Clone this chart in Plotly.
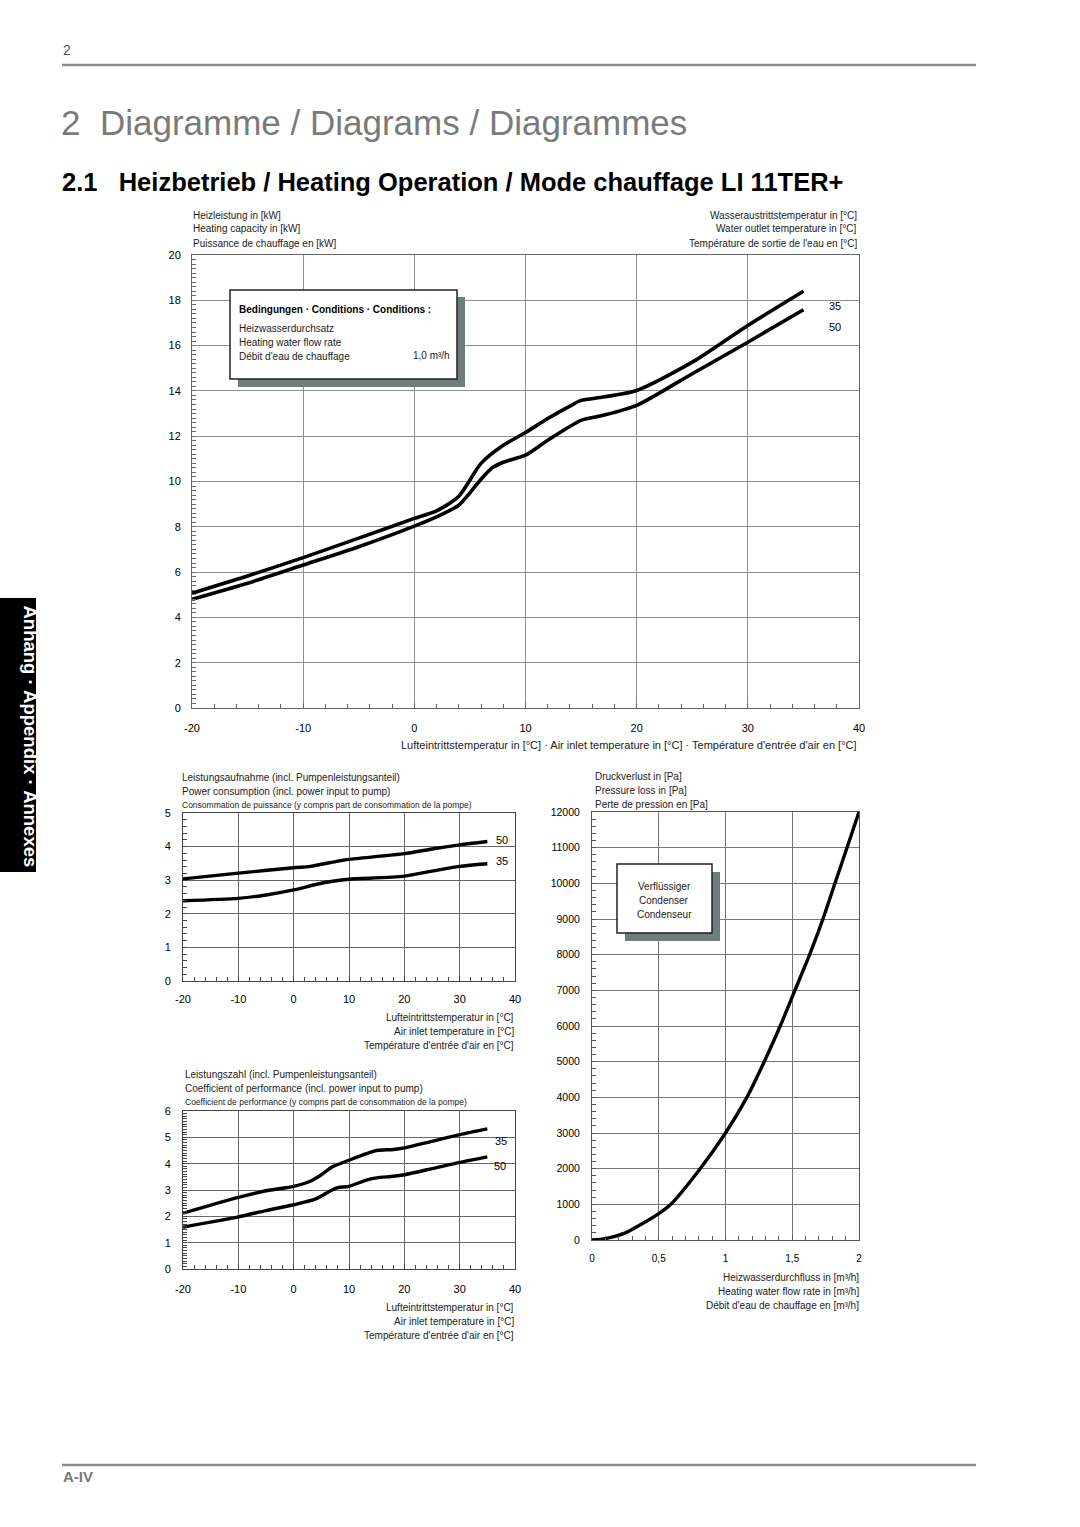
import plotly.graph_objects as go

# ---------------- data ----------------
# Main chart: heating capacity [kW] vs air inlet temperature [°C]
cap_temp_35 = [-20, -15, -10, -5, 0, 2, 4, 6, 8, 10, 12, 14, 15, 17, 20, 25, 30, 35]
cap_35 = [5.07, 5.83, 6.64, 7.5, 8.37, 8.7, 9.35, 10.8, 11.6, 12.16, 12.78, 13.33, 13.58, 13.73, 14.02, 15.27, 16.89, 18.4]
cap_temp_50 = [-20, -15, -10, -5, 0, 2, 4, 5, 6, 7, 8, 10, 12, 15, 17, 20, 25, 30, 35]
cap_50 = [4.80, 5.51, 6.31, 7.12, 8.03, 8.44, 8.95, 9.5, 10.1, 10.6, 10.85, 11.16, 11.82, 12.7, 12.92, 13.36, 14.76, 16.15, 17.58]

# Power consumption [kW]
pw_temp_50 = [-20, -10, 0, 3, 8, 10, 20, 25, 30, 35]
pw_50 = [3.04, 3.21, 3.37, 3.41, 3.57, 3.62, 3.79, 3.93, 4.05, 4.15]
pw_temp_35 = [-20, -10, -5, 0, 5, 8, 10, 20, 25, 30, 35]
pw_35 = [2.39, 2.46, 2.56, 2.71, 2.91, 2.99, 3.03, 3.12, 3.27, 3.41, 3.49]

# Coefficient of performance
cop_temp_35 = [-20, -10, -5, 0, 3, 5, 7, 10, 13, 15, 18, 20, 25, 30, 35]
cop_35 = [2.12, 2.72, 2.97, 3.14, 3.33, 3.58, 3.88, 4.13, 4.37, 4.50, 4.54, 4.60, 4.85, 5.10, 5.32]
cop_temp_50 = [-20, -10, -5, 0, 4, 7, 8, 10, 13, 15, 18, 20, 25, 30, 35]
cop_50 = [1.59, 1.98, 2.22, 2.44, 2.66, 3.01, 3.09, 3.14, 3.37, 3.46, 3.52, 3.58, 3.81, 4.05, 4.26]

# Pressure loss [Pa] vs heating water flow [m³/h]
flow = [0, 0.1, 0.25, 0.5, 0.59, 0.81, 1.0, 1.16, 1.29, 1.41, 1.52, 1.63, 1.73, 1.82, 1.91, 2.0]
ploss = [0, 40, 200, 740, 1000, 2000, 3000, 4000, 5000, 6000, 7000, 8000, 9000, 10000, 11000, 12000]

temp_ticks = [-20, -10, 0, 10, 20, 30, 40]
temp_ticktext = ["-20", "-10", "0", "10", "20", "30", "40"]
cap_ticks = [0, 2, 4, 6, 8, 10, 12, 14, 16, 18, 20]
pw_ticks = [0, 1, 2, 3, 4, 5]
cop_ticks = [0, 1, 2, 3, 4, 5, 6]
p_ticks = list(range(0, 12001, 1000))
flow_ticks = [0, 0.5, 1, 1.5, 2]
flow_ticktext = ["0", "0,5", "1", "1,5", "2"]

# gridlines drawn in a different tone in the original
cap_dark_grid = [4, 10, 14]
pw_teal_grid = [-10]
pw_light_grid = [10]
cop_light_grid = [1]
p_teal_grid = [2000]

# ---------------- helpers ----------------
W, H = 1080, 1527
def px(x):
    return x / W
def py(y):
    return 1 - y / H

FONT = "Liberation Sans"

fig = go.Figure()

def curve(x, y, xa, ya, w=3.6):
    fig.add_trace(go.Scatter(x=x, y=y, mode="lines", xaxis=xa, yaxis=ya,
                             line=dict(color="black", width=w, shape="spline", smoothing=0.7),
                             showlegend=False, hoverinfo="skip"))

curve(cap_temp_35, cap_35, "x", "y")
curve(cap_temp_50, cap_50, "x", "y")
curve(pw_temp_50, pw_50, "x2", "y2", 3.4)
curve(pw_temp_35, pw_35, "x2", "y2", 3.4)
curve(cop_temp_35, cop_35, "x3", "y3", 3.4)
curve(cop_temp_50, cop_50, "x3", "y3", 3.4)
curve(flow, ploss, "x4", "y4", 3.4)

def axis(domain, anchor, rng, tickvals, ticktext, minor_dtick, size=11, grid="#8f8f8f",
         line="#666", standoff=6, ticklen=5):
    return dict(domain=domain, anchor=anchor, range=rng, tickmode="array",
                tickvals=tickvals, ticktext=ticktext, showgrid=True, gridcolor=grid,
                gridwidth=1, zeroline=False, showline=True, linecolor=line, linewidth=1,
                mirror=True, ticks="inside", ticklen=ticklen, tickcolor=line,
                tickfont=dict(family=FONT, size=size, color="black"),
                ticklabelstandoff=standoff, fixedrange=True, automargin=False,
                minor=dict(dtick=minor_dtick, ticks="inside", ticklen=4, tickcolor=line, showgrid=False))

def grid_overlay(over, anchor, rng, vals, color):
    # extra axis overlaying an existing one, only to draw a few gridlines in another tone
    return dict(overlaying=over, anchor=anchor, range=rng, tickmode="array", tickvals=vals,
                showticklabels=False, ticks="", showline=False, zeroline=False,
                showgrid=True, gridcolor=color, gridwidth=1, fixedrange=True, automargin=False)

annotations = []
def text(x, y, s, size=10, anchor="left", color="#222", bold=False):
    annotations.append(dict(x=px(x), y=py(y), xref="paper", yref="paper", text=s,
                            showarrow=False, xanchor=anchor, yanchor="middle",
                            font=dict(family=FONT, size=size, color=color,
                                      weight="bold" if bold else "normal")))

# header
text(61, 50, "2", size=14, color="#555")
text(59, 122, "2  Diagramme / Diagrams / Diagrammes", size=35, color="#7a7a7a")
text(60, 182, "2.1   Heizbetrieb / Heating Operation / Mode chauffage LI 11TER+", size=25.5,
     color="black", bold=True)
text(61, 1476, "A-IV", size=15, color="#777", bold=True)

# main chart labels
for i, s in enumerate(["Heizleistung in [kW]", "Heating capacity in [kW]", "Puissance de chauffage en [kW]"]):
    text(191, 215 + 14 * i, s, size=10)
for i, s in enumerate(["Wasseraustrittstemperatur in [°C]", "Water outlet temperature in [°C]",
                       "Température de sortie de l'eau en [°C]"]):
    text(859, 215 + 14 * i, s, size=10, anchor="right")
text(859, 745, "Lufteintrittstemperatur in [°C] · Air inlet temperature in [°C] · Température d'entrée d'air en [°C]",
     size=11, anchor="right")
annotations.append(dict(x=37.8, y=17.75, xref="x", yref="y", text="35", showarrow=False,
                        font=dict(family=FONT, size=11, color="black")))
annotations.append(dict(x=37.8, y=16.8, xref="x", yref="y", text="50", showarrow=False,
                        font=dict(family=FONT, size=11, color="black")))

# conditions box text
text(237, 310, "Bedingungen · Conditions · Conditions :", size=10, color="black", bold=True)
text(237, 328, "Heizwasserdurchsatz", size=10)
text(237, 342, "Heating water flow rate", size=10)
text(237, 356, "Débit d'eau de chauffage", size=10)
text(452, 355, "1,0 m³/h", size=10, anchor="right")

# power chart labels
text(180, 777, "Leistungsaufnahme (incl. Pumpenleistungsanteil)", size=10)
text(180, 791, "Power consumption (incl. power input to pump)", size=10)
text(180, 805, "Consommation de puissance (y compris part de consommation de la pompe)", size=8.5)
for i, s in enumerate(["Lufteintrittstemperatur in [°C]", "Air inlet temperature in [°C]",
                       "Température d'entrée d'air en [°C]"]):
    text(516, 1017 + 14 * i, s, size=10, anchor="right")
annotations.append(dict(x=37.6, y=4.2, xref="x2", yref="y2", text="50", showarrow=False,
                        font=dict(family=FONT, size=11, color="black")))
annotations.append(dict(x=37.6, y=3.57, xref="x2", yref="y2", text="35", showarrow=False,
                        font=dict(family=FONT, size=11, color="black")))

# COP chart labels
text(183, 1074, "Leistungszahl (incl. Pumpenleistungsanteil)", size=10)
text(183, 1088, "Coefficient of performance (incl. power input to pump)", size=10)
text(183, 1102, "Coefficient de performance (y compris part de consommation de la pompe)", size=8.5)
for i, s in enumerate(["Lufteintrittstemperatur in [°C]", "Air inlet temperature in [°C]",
                       "Température d'entrée d'air en [°C]"]):
    text(516, 1307 + 14 * i, s, size=10, anchor="right")
annotations.append(dict(x=37.4, y=4.85, xref="x3", yref="y3", text="35", showarrow=False,
                        font=dict(family=FONT, size=11, color="black")))
annotations.append(dict(x=37.2, y=3.9, xref="x3", yref="y3", text="50", showarrow=False,
                        font=dict(family=FONT, size=11, color="black")))

# pressure chart labels
for i, s in enumerate(["Druckverlust in [Pa]", "Pressure loss in [Pa]", "Perte de pression en [Pa]"]):
    text(593, 776 + 14 * i, s, size=10)
for i, s in enumerate(["Heizwasserdurchfluss in [m³/h]", "Heating water flow rate in [m³/h]",
                       "Débit d'eau de chauffage en [m³/h]"]):
    text(861, 1277 + 14 * i, s, size=10, anchor="right")
for i, s in enumerate(["Verflüssiger", "Condenser", "Condenseur"]):
    text(664, 886 + 14 * i, s, size=10, anchor="center")

# side tab text
annotations.append(dict(x=px(18), y=py(736), xref="paper", yref="paper",
                        text="Anhang · Appendix · Annexes", textangle=90, showarrow=False,
                        font=dict(family=FONT, size=18.5, color="white", weight="bold")))

shapes = [
    dict(type="line", xref="paper", yref="paper", x0=px(62), x1=px(976), y0=py(65), y1=py(65),
         line=dict(color="#8a8a8a", width=2.5)),
    dict(type="line", xref="paper", yref="paper", x0=px(62), x1=px(976), y0=py(1465), y1=py(1465),
         line=dict(color="#8a8a8a", width=2.5)),
    dict(type="rect", xref="paper", yref="paper", x0=0, x1=px(36), y0=py(872), y1=py(598),
         fillcolor="black", line=dict(width=0)),
    # conditions box + shadow
    dict(type="rect", xref="paper", yref="paper", x0=px(238), x1=px(465), y0=py(387), y1=py(297),
         fillcolor="#6f7d7d", line=dict(width=0), layer="above"),
    dict(type="rect", xref="paper", yref="paper", x0=px(230), x1=px(457), y0=py(379), y1=py(290),
         fillcolor="white", line=dict(color="#222", width=1.5), layer="above"),
    # condenser box + shadow
    dict(type="rect", xref="paper", yref="paper", x0=px(625), x1=px(720), y0=py(941), y1=py(872),
         fillcolor="#6f7d7d", line=dict(width=0), layer="above"),
    dict(type="rect", xref="paper", yref="paper", x0=px(617), x1=px(712), y0=py(933), y1=py(864),
         fillcolor="white", line=dict(color="#222", width=1.5), layer="above"),
]

fig.update_layout(
    width=W, height=H, margin=dict(l=0, r=0, t=0, b=0, pad=0), autosize=False,
    paper_bgcolor="white", plot_bgcolor="white", showlegend=False,
    xaxis=axis([px(192), px(859)], "y", [-20, 40], temp_ticks, temp_ticktext, 2, size=11, standoff=10),
    yaxis=axis([py(708), py(255)], "x", [0, 20], cap_ticks, [str(v) for v in cap_ticks], 0.2, size=11,
               standoff=8, ticklen=3),
    xaxis2=axis([px(183), px(515)], "y2", [-20, 40], temp_ticks, temp_ticktext, 2, size=11,
                grid="#666", line="#444", standoff=8),
    yaxis2=axis([py(981), py(813)], "x2", [0, 5], pw_ticks, [str(v) for v in pw_ticks], 0.2, size=11,
                grid="#666", line="#444", standoff=9, ticklen=3),
    xaxis3=axis([px(183), px(515)], "y3", [-20, 40], temp_ticks, temp_ticktext, 2, size=11,
                grid="#666", line="#444", standoff=10),
    yaxis3=axis([py(1269), py(1111)], "x3", [0, 6], cop_ticks, [str(v) for v in cop_ticks], 0.1, size=11,
                grid="#666", line="#444", standoff=9, ticklen=3),
    xaxis4=axis([px(592), px(859)], "y4", [0, 2], flow_ticks, flow_ticktext, 0.1, size=10,
                grid="#777", line="#555", standoff=9),
    yaxis4=axis([py(1240), py(812)], "x4", [0, 12000], p_ticks, [str(v) for v in p_ticks], 200, size=10.5,
                grid="#777", line="#555", standoff=9, ticklen=3),
    # overlay axes for differently toned gridlines
    yaxis5=grid_overlay("y", "x", [0, 20], cap_dark_grid, "#333"),
    xaxis5=grid_overlay("x2", "y2", [-20, 40], pw_teal_grid, "#2e6a6a"),
    xaxis6=grid_overlay("x2", "y2", [-20, 40], pw_light_grid, "#d2d2d2"),
    yaxis6=grid_overlay("y3", "x3", [0, 6], cop_light_grid, "#d2d2d2"),
    yaxis7=grid_overlay("y4", "x4", [0, 12000], p_teal_grid, "#4f8080"),
    annotations=annotations,
    shapes=shapes,
)

post = ("document.documentElement.style.margin='0';document.documentElement.style.padding='0';"
        "document.body.style.margin='0';document.body.style.padding='0';"
        "document.documentElement.style.overflow='hidden';document.body.style.overflow='hidden';")

fig.write_html("out.html", post_script=post, config={"displayModeBar": False})
